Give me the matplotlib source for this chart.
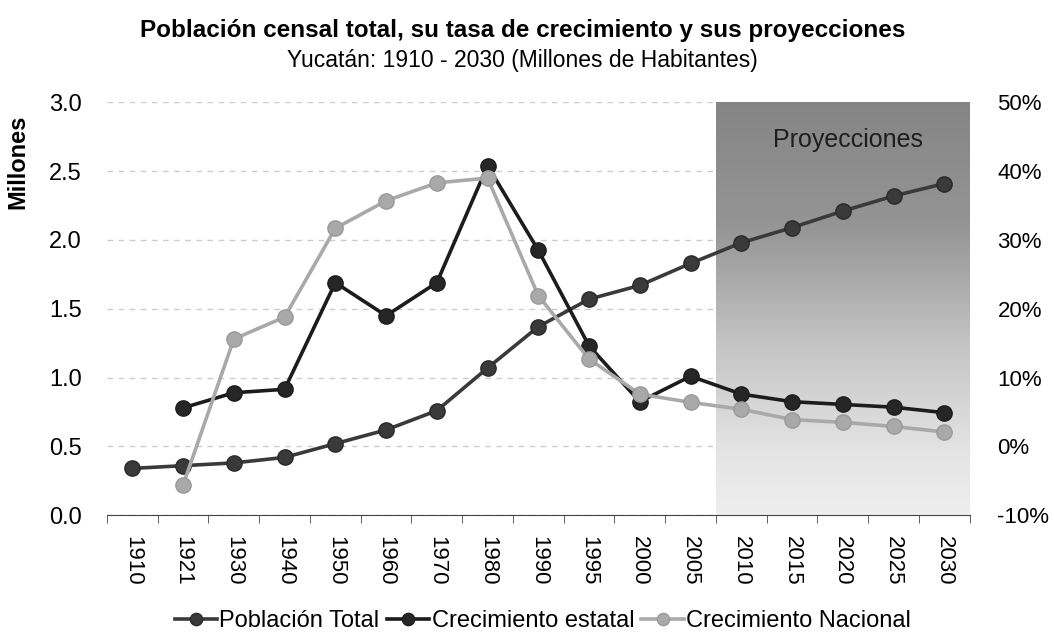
import numpy as np
import matplotlib
matplotlib.use("Agg")
import matplotlib.pyplot as plt
from matplotlib.colors import LinearSegmentedColormap
from matplotlib.ticker import FuncFormatter, MultipleLocator

plt.rcParams['font.family'] = ['Liberation Sans', 'DejaVu Sans']

years = ["1910", "1921", "1930", "1940", "1950", "1960", "1970", "1980", "1990",
         "1995", "2000", "2005", "2010", "2015", "2020", "2025", "2030"]

# poblacion total, millones
poblacion = [0.34, 0.36, 0.38, 0.42, 0.52, 0.62, 0.76, 1.07, 1.37,
             1.57, 1.67, 1.83, 1.98, 2.09, 2.21, 2.32, 2.41]

# tasas de crecimiento, % (sin dato para 1910)
crec_estatal = [np.nan, 5.6, 7.8, 8.3, 23.8, 19.0, 23.8, 40.8, 28.5,
                14.6, 6.5, 10.2, 7.6, 6.5, 6.1, 5.7, 4.9]
crec_nacional = [np.nan, -5.6, 15.6, 18.8, 31.7, 35.7, 38.3, 39.0, 21.9,
                 12.7, 7.6, 6.4, 5.4, 3.9, 3.5, 2.9, 2.1]

proj_start = "2010"

x = np.arange(len(years))

fig = plt.figure(figsize=(10.54, 6.4), dpi=100)
ax = fig.add_axes([0.1015, 0.195, 0.8185, 0.645])

ax.set_xlim(-0.5, len(years) - 0.5)
ax.set_ylim(0, 3.0)

# fondo degradado para el periodo de proyeccion
shade = LinearSegmentedColormap.from_list(
    "shade", [(0.0, "#858585"), (0.3, "#959595"), (0.6, "#c6c6c6"),
              (0.85, "#e4e4e4"), (1.0, "#eeeeee")])
i0 = years.index(proj_start) - 0.5
grad = np.linspace(0, 1, 256).reshape(-1, 1)
ax.imshow(grad, cmap=shade, vmin=0, vmax=1, aspect="auto",
          extent=[i0, len(years) - 0.5, 0, 3.0], origin="upper", zorder=1)
ax.text((i0 + len(years) - 0.5) / 2 + 0.1, 2.73, "Proyecciones", ha="center", va="center",
        fontsize=18, color="#1e1e1e", zorder=2)

ax.yaxis.grid(True, linestyle=(0, (4, 4)), color="#cccccc", linewidth=1, zorder=0.5)
ax.set_axisbelow(True)

ax.plot(x, poblacion, color="#3a3a3a", lw=2.6, marker="o", ms=11,
        mfc="#3a3a3a", mec="#2a2a2a", zorder=3, label="Población Total")

ax2 = ax.twinx()
ax2.set_ylim(-10, 50)
ax2.plot(x, crec_estatal, color="#1c1c1c", lw=2.6, marker="o", ms=11,
         mfc="#262626", mec="#1c1c1c", zorder=3, label="Crecimiento estatal")
ax2.plot(x, crec_nacional, color="#a9a9a9", lw=2.6, marker="o", ms=11,
         mfc="#a9a9a9", mec="#9a9a9a", zorder=4, label="Crecimiento Nacional")

# ejes
for s in ["top", "left", "right"]:
    ax.spines[s].set_visible(False)
    ax2.spines[s].set_visible(False)
ax2.spines["bottom"].set_visible(False)
ax.spines["bottom"].set_color("#444444")

ax.set_xticks(x)
ax.set_xticklabels(years, rotation=-90, fontsize=16)
ax.set_xticks(np.arange(-0.5, len(years), 1), minor=True)
ax.tick_params(axis="x", which="major", length=0, pad=15)
ax.tick_params(axis="x", which="minor", length=6, color="#444444", direction="out")

ax.yaxis.set_major_locator(MultipleLocator(0.5))
ax.yaxis.set_major_formatter(FuncFormatter(lambda v, p: f"{v:.1f}"))
ax.tick_params(axis="y", length=0, labelsize=17, pad=18)

ax2.yaxis.set_major_locator(MultipleLocator(10))
ax2.yaxis.set_major_formatter(FuncFormatter(lambda v, p: f"{v:.0f}%"))
ax2.tick_params(axis="y", length=0, labelsize=16, pad=20)

ax.set_ylabel("Millones", fontsize=17, fontweight="bold")
ax.yaxis.set_label_coords(-0.09, 0.855)

fig.text(0.496, 0.952, "Población censal total, su tasa de crecimiento y sus proyecciones",
         ha="center", va="center", fontsize=17.5, fontweight="bold")
fig.text(0.496, 0.905, "Yucatán: 1910 - 2030 (Millones de Habitantes)",
         ha="center", va="center", fontsize=16.5)

h1, l1 = ax.get_legend_handles_labels()
h2, l2 = ax2.get_legend_handles_labels()
fig.legend(h1 + h2, l1 + l2, loc="center", bbox_to_anchor=(0.515, 0.03), ncol=3,
           frameon=False, fontsize=17, handlelength=1.8, handletextpad=0.1,
           columnspacing=0.3, markerscale=0.8)

fig.savefig("out.png", dpi=100)
